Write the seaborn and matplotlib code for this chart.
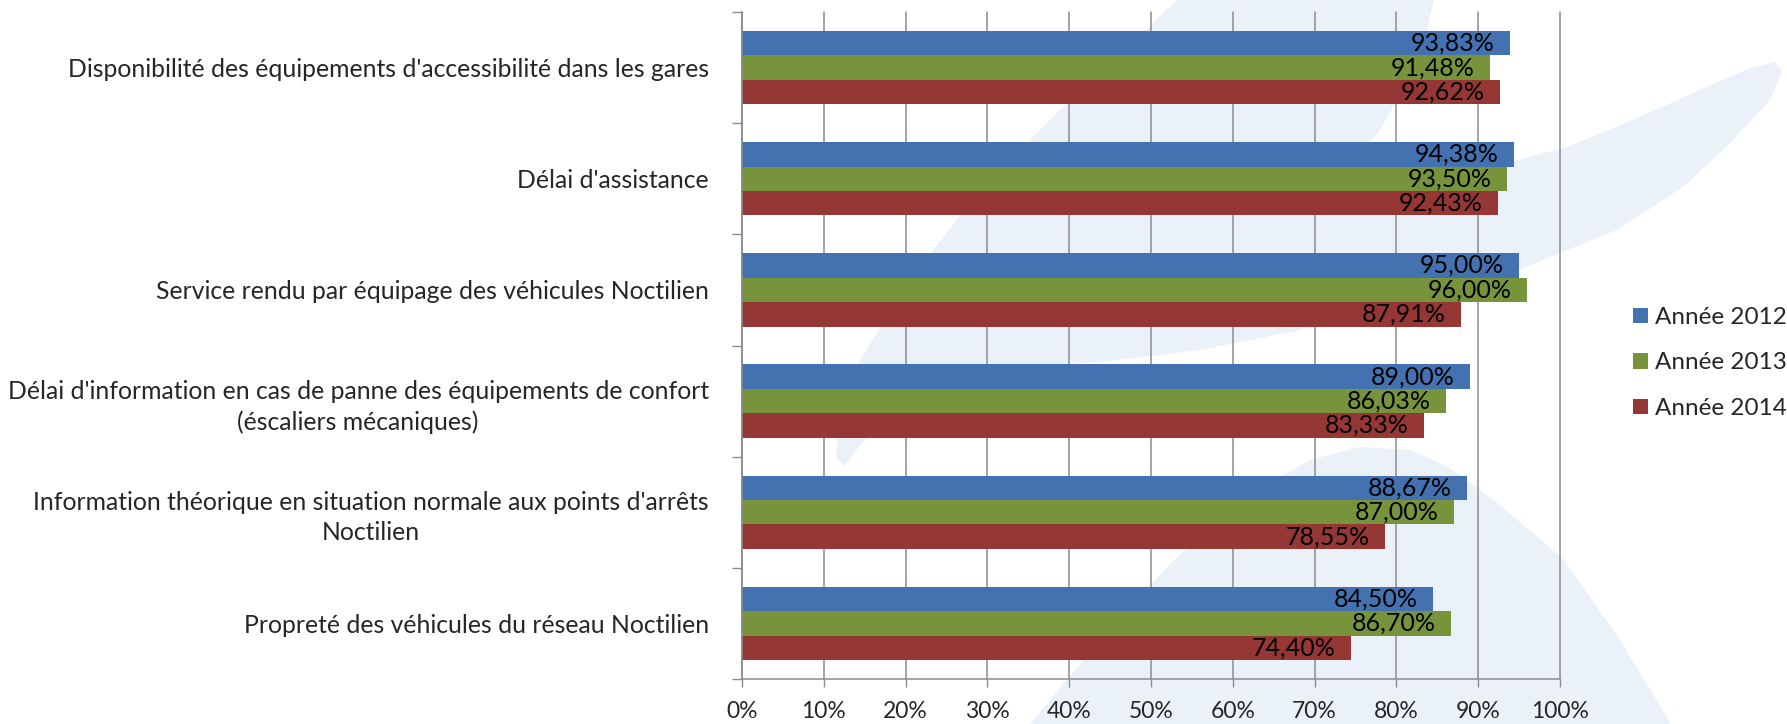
import matplotlib
matplotlib.use("Agg")
import matplotlib.pyplot as plt
import seaborn as sns
import pandas as pd
from matplotlib.patches import Polygon

categories = [
    "Disponibilité des équipements d'accessibilité dans les gares",
    "Délai d'assistance",
    "Service rendu par équipage des véhicules Noctilien",
    "Délai d'information en cas de panne des équipements de confort\n(éscaliers mécaniques)",
    "Information théorique en situation normale aux points d'arrêts\nNoctilien",
    "Propreté des véhicules du réseau Noctilien",
]
years = ["Année 2012", "Année 2013", "Année 2014"]
values_2012 = [93.83, 94.38, 95.00, 89.00, 88.67, 84.50]
values_2013 = [91.48, 93.50, 96.00, 86.03, 87.00, 86.70]
values_2014 = [92.62, 92.43, 87.91, 83.33, 78.55, 74.40]
x_ticks = [0, 10, 20, 30, 40, 50, 60, 70, 80, 90, 100]
x_tick_labels = [f"{t}%" for t in x_ticks]
colors = ["#4472B0", "#77933C", "#953735"]

rows = []
for yr, vals in zip(years, [values_2012, values_2013, values_2014]):
    for c, v in zip(categories, vals):
        rows.append({"Catégorie": c, "Année": yr, "Valeur": v})
df = pd.DataFrame(rows)

sns.set_theme(style="white")
plt.rcParams["font.family"] = ["Lato", "DejaVu Sans"]

fig = plt.figure(figsize=(17.87, 7.24), dpi=100)

# faint background watermark (decoration)
bg = fig.add_axes([0, 0, 1, 1], zorder=-10)
bg.set_xlim(0, 1787); bg.set_ylim(724, 0); bg.axis("off")
wm = "#EAF1F9"
swoosh = [(1177, 0), (1434, 0), (1420, 60), (1380, 130), (1320, 200), (1400, 190),
          (1480, 170), (1567, 147), (1633, 120), (1700, 90), (1750, 68), (1775, 62),
          (1782, 72), (1770, 100), (1733, 140), (1683, 187), (1617, 230), (1560, 253),
          (1510, 273), (1400, 305), (1300, 330), (1200, 350), (1100, 362), (1000, 368),
          (950, 375), (900, 405), (860, 445), (845, 466), (836, 458), (838, 430),
          (860, 360), (910, 280), (980, 190), (1060, 110), (1130, 45)]
bg.add_patch(Polygon(swoosh, closed=True, facecolor=wm, edgecolor="none"))
wedge = [(1030, 724), (1100, 640), (1174, 560), (1250, 495), (1310, 460), (1360, 447),
         (1410, 450), (1450, 468), (1500, 505), (1564, 560), (1620, 640), (1671, 724)]
bg.add_patch(Polygon(wedge, closed=True, facecolor=wm, edgecolor="none"))

ax = fig.add_axes([742 / 1787, 1 - 679 / 724, 818 / 1787, (679 - 12) / 724])
ax.patch.set_alpha(0)
sns.barplot(data=df, y="Catégorie", x="Valeur", hue="Année", orient="h",
            palette=colors, width=0.66, ax=ax, saturation=1, linewidth=0,
            order=categories, hue_order=years, legend=True)

for cont in ax.containers:
    labels = [f"{v:.2f}".replace(".", ",") + "%" for v in cont.datavalues]
    ax.bar_label(cont, labels=labels, padding=-11, fontsize=18, color="black",
                 label_type="edge")
for t in ax.texts:
    t.set_horizontalalignment("right")

ax.set_xlim(0, 100)
ax.set_ylim(5.5, -0.5)
ax.set_xticks(x_ticks)
ax.set_xticklabels(x_tick_labels, fontsize=16.5)
ax.set_yticks(range(len(categories)))
ax.set_yticklabels(categories, fontsize=17.8, multialignment="center", linespacing=1.38)
ax.tick_params(axis="y", length=0, pad=24)
ax.tick_params(axis="x", length=6, width=1, color="#8C8C8C", pad=10, direction="out", bottom=True)
ax.set_yticks([i - 0.5 for i in range(len(categories) + 1)], minor=True)
ax.tick_params(axis="y", which="minor", length=7, width=1, color="#8C8C8C", left=True)

ax.grid(axis="x", color="#8C8C8C", linewidth=1.1)
for gl in ax.get_xgridlines():
    gl.set_clip_on(False)
ax.set_axisbelow(True)
for s in ["top", "right"]:
    ax.spines[s].set_visible(False)
for s in ["left", "bottom"]:
    ax.spines[s].set_color("#8C8C8C")
    ax.spines[s].set_linewidth(1.1)
ax.set_xlabel("")
ax.set_ylabel("")

leg = ax.legend(loc="center left", bbox_to_anchor=(1633 / 1787, 1 - 363 / 724),
                bbox_transform=fig.transFigure, frameon=False, borderpad=0,
                borderaxespad=0, fontsize=17.5, handlelength=0.6, handleheight=0.6,
                labelspacing=1.0, handletextpad=0.3)

fig.savefig("out.png", dpi=100)
